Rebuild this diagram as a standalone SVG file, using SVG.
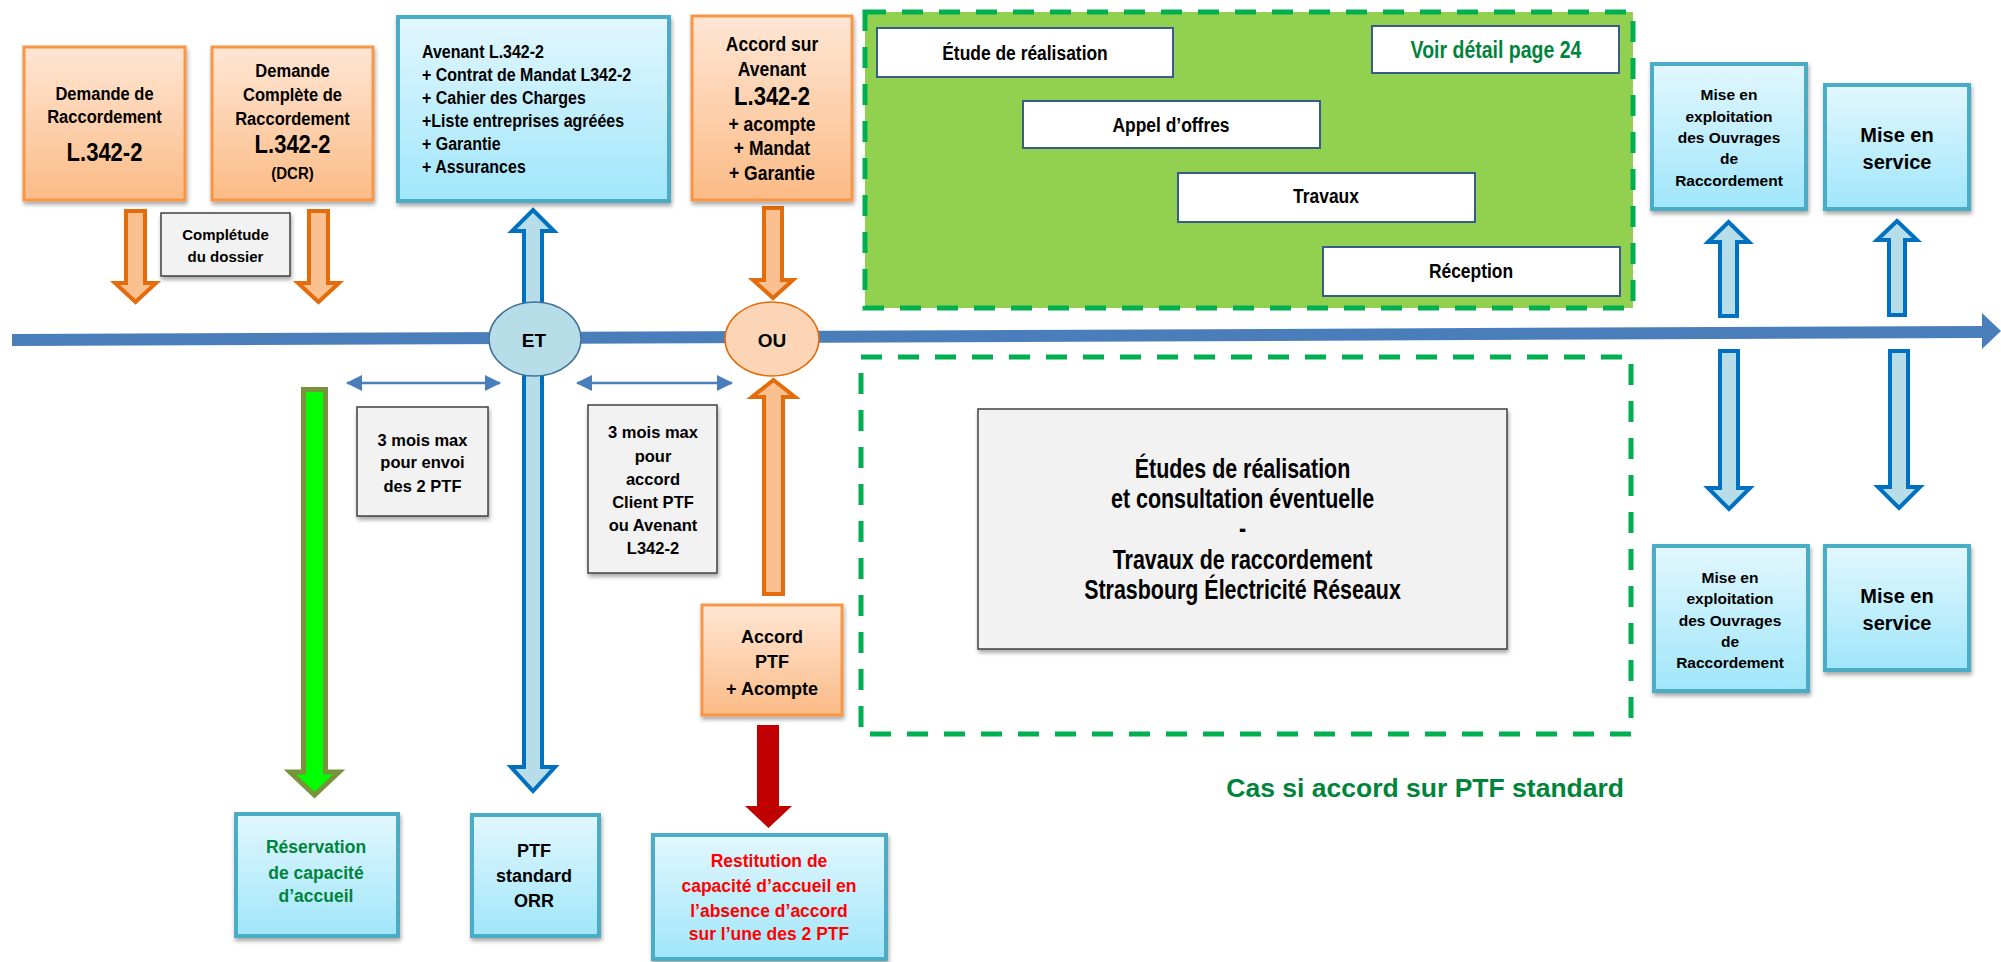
<svg xmlns="http://www.w3.org/2000/svg" width="2001" height="962" viewBox="0 0 2001 962">
<defs>
<linearGradient id="gOr" x1="0" y1="0" x2="0" y2="1"><stop offset="0" stop-color="#FFE6D4"/><stop offset="1" stop-color="#FBBB86"/></linearGradient>
<linearGradient id="gBl" x1="0" y1="0" x2="0" y2="1"><stop offset="0" stop-color="#E2F7FE"/><stop offset="1" stop-color="#A0E6FA"/></linearGradient>
<filter id="sh" x="-10%" y="-10%" width="130%" height="130%"><feDropShadow dx="1" dy="3" stdDeviation="2" flood-color="#000" flood-opacity="0.35"/></filter>
<marker id="ah" viewBox="0 0 16 16" refX="15" refY="8" markerWidth="16" markerHeight="16" markerUnits="userSpaceOnUse" orient="auto-start-reverse"><path d="M0,0 L16,8 L0,16 z" fill="#4A7EBB"/></marker>
</defs>
<style>
.t{font-family:"Liberation Sans",Arial,sans-serif;font-weight:bold;fill:#000;text-anchor:middle}
.l{text-anchor:start}
.or{fill:url(#gOr);stroke:#F79646;stroke-width:3;filter:url(#sh)}
.bl{fill:url(#gBl);stroke:#4BACC6;stroke-width:4;filter:url(#sh)}
.gr{fill:#F2F2F2;stroke:#404040;stroke-width:1.5;filter:url(#sh)}
.wh{fill:#FFFFFF;stroke:#385D8A;stroke-width:2}
.dash{stroke:#00B050;stroke-width:5;stroke-dasharray:21 16}
.oa{fill:#FAC090;stroke:#E46C0A;stroke-width:4;stroke-linejoin:miter}
.ba{fill:#B7DDE8;stroke:#0070C0;stroke-width:4;stroke-linejoin:miter}
.dbl{stroke:#4A7EBB;stroke-width:2.5;fill:none;marker-start:url(#ah);marker-end:url(#ah)}
.grn{fill:#00843C}
.red{fill:#FF0000}
</style>

<g id="zone-detail">
<rect x="865" y="12" width="768" height="296" fill="#92D050" class="dash"/>
</g>
<g id="zone-standard">
<rect x="861" y="357" width="770" height="377" fill="none" class="dash"/>
</g>

<g id="connectors">
<line x1="12" y1="340" x2="1984" y2="332" stroke="#4A7EBB" stroke-width="12"/>
<polygon points="1982,313 2001,331 1982,349" fill="#4A7EBB"/>
<polygon class="oa" points="126,211 145,211 145,283 156,283 135.5,302 115,283 126,283"/>
<polygon class="oa" points="309,211 328,211 328,283 339,283 318.5,302 298,283 309,283"/>
<polygon class="oa" points="764,208 782,208 782,280 793,280 773,298 753,280 764,280"/>
<polygon class="oa" points="773.5,380 795,397 783,397 783,594 764,594 764,397 752,397"/>
<polygon points="757,725 779,725 779,806 792,806 768.5,828 745,806 757,806" fill="#C00000"/>
<polygon points="303.5,389.5 325.5,389.5 325.5,772 339,772 314.5,795 290,772 303.5,772" fill="#00FF00" stroke="#77933C" stroke-width="5"/>
<polygon class="ba" points="533,210 554,231 542,231 542,767 555,767 533,791 511,767 524,767 524,231 512,231"/>
<polygon class="ba" points="1728.5,222 1749,242 1737,242 1737,316 1720,316 1720,242 1708,242"/>
<polygon class="ba" points="1897,221 1917,240 1905,240 1905,315 1889,315 1889,240 1877,240"/>
<polygon class="ba" points="1720,351 1738,351 1738,488 1750,488 1729,509 1708,488 1720,488"/>
<polygon class="ba" points="1890,351 1908,351 1908,487 1920,487 1899,508 1878,487 1890,487"/>
<line class="dbl" x1="347" y1="383" x2="500" y2="383"/>
<line class="dbl" x1="577" y1="383" x2="732" y2="383"/>
</g>

<g id="et">
<ellipse cx="535" cy="339" rx="46" ry="37" fill="#B7DDE8" stroke="#41719C" stroke-width="1.5"/>
<text class="t" x="534" y="347" font-size="19">ET</text>
</g>
<g id="ou">
<ellipse cx="772" cy="339" rx="47" ry="37" fill="#FBD5B5" stroke="#E46C0A" stroke-width="1.5"/>
<text class="t" x="772" y="347" font-size="19">OU</text>
</g>

<g id="demande-raccordement">
<rect class="or" x="24" y="47" width="161" height="153"/>
<g transform="translate(104.5,0) scale(0.86,1)">
<text class="t" x="0" y="100" font-size="19.2">Demande de</text>
<text class="t" x="0" y="123" font-size="19.2">Raccordement</text>
<text class="t" x="0" y="161" font-size="25.6">L.342-2</text>
</g>
</g>
<g id="demande-complete">
<rect class="or" x="212" y="47" width="161" height="153"/>
<g transform="translate(292.5,0) scale(0.86,1)">
<text class="t" x="0" y="77" font-size="19.2">Demande</text>
<text class="t" x="0" y="101" font-size="19.2">Complète de</text>
<text class="t" x="0" y="125" font-size="19.2">Raccordement</text>
<text class="t" x="0" y="153" font-size="25.6">L.342-2</text>
<text class="t" x="0" y="179" font-size="17.4">(DCR)</text>
</g>
</g>
<g id="completude">
<rect class="gr" x="161" y="213" width="129" height="63"/>
<text class="t" x="225.5" y="240" font-size="15">Complétude</text>
<text class="t" x="225.5" y="262" font-size="15">du dossier</text>
</g>
<g id="avenant">
<rect class="bl" x="398" y="17" width="271" height="184"/>
<g transform="translate(422,0) scale(0.86,1)">
<text class="t l" x="0" y="58" font-size="18.6">Avenant L.342-2</text>
<text class="t l" x="0" y="81" font-size="18.6">+ Contrat de Mandat L342-2</text>
<text class="t l" x="0" y="104" font-size="18.6">+ Cahier des Charges</text>
<text class="t l" x="0" y="127" font-size="18.6">+Liste entreprises agréées</text>
<text class="t l" x="0" y="150" font-size="18.6">+ Garantie</text>
<text class="t l" x="0" y="173" font-size="18.6">+ Assurances</text>
</g>
</g>
<g id="accord-avenant">
<rect class="or" x="692" y="16" width="160" height="184"/>
<g transform="translate(772,0) scale(0.88,1)">
<text class="t" x="0" y="51" font-size="19.9">Accord sur</text>
<text class="t" x="0" y="76" font-size="19.9">Avenant</text>
<text class="t" x="0" y="105" font-size="25">L.342-2</text>
<text class="t" x="0" y="131" font-size="19.9">+ acompte</text>
<text class="t" x="0" y="155" font-size="19.9">+ Mandat</text>
<text class="t" x="0" y="180" font-size="19.9">+ Garantie</text>
</g>
</g>

<g id="etude-realisation"><rect class="wh" x="877" y="28" width="296" height="49"/><text class="t" transform="translate(1025,0) scale(0.83,1)" x="0" y="60" font-size="21">Étude de réalisation</text></g>
<g id="voir-detail"><rect class="wh" x="1372" y="26" width="247" height="47"/><text class="t grn" transform="translate(1496,0) scale(0.83,1)" x="0" y="58" font-size="23.5">Voir détail page 24</text></g>
<g id="appel-offres"><rect class="wh" x="1023" y="101" width="297" height="47"/><text class="t" transform="translate(1171,0) scale(0.83,1)" x="0" y="132" font-size="21">Appel d’offres</text></g>
<g id="travaux"><rect class="wh" x="1178" y="173" width="297" height="49"/><text class="t" transform="translate(1326,0) scale(0.83,1)" x="0" y="203" font-size="21">Travaux</text></g>
<g id="reception"><rect class="wh" x="1323" y="247" width="297" height="49"/><text class="t" transform="translate(1471,0) scale(0.83,1)" x="0" y="278" font-size="21">Réception</text></g>

<g id="mise-exploitation-haut">
<rect class="bl" x="1652" y="64" width="154" height="145"/>
<text class="t" x="1729" y="100" font-size="15.5">Mise en</text>
<text class="t" x="1729" y="122" font-size="15.5">exploitation</text>
<text class="t" x="1729" y="143" font-size="15.5">des Ouvrages</text>
<text class="t" x="1729" y="164" font-size="15.5">de</text>
<text class="t" x="1729" y="186" font-size="15.5">Raccordement</text>
</g>
<g id="mise-service-haut">
<rect class="bl" x="1825" y="85" width="144" height="124"/>
<text class="t" x="1897" y="142" font-size="20">Mise en</text>
<text class="t" x="1897" y="169" font-size="20">service</text>
</g>
<g id="mise-exploitation-bas">
<rect class="bl" x="1654" y="546" width="154" height="145"/>
<text class="t" x="1730" y="583" font-size="15.5">Mise en</text>
<text class="t" x="1730" y="604" font-size="15.5">exploitation</text>
<text class="t" x="1730" y="626" font-size="15.5">des Ouvrages</text>
<text class="t" x="1730" y="647" font-size="15.5">de</text>
<text class="t" x="1730" y="668" font-size="15.5">Raccordement</text>
</g>
<g id="mise-service-bas">
<rect class="bl" x="1825" y="546" width="144" height="124"/>
<text class="t" x="1897" y="603" font-size="20">Mise en</text>
<text class="t" x="1897" y="630" font-size="20">service</text>
</g>

<g id="delai-envoi">
<rect class="gr" x="357" y="407" width="131" height="109"/>
<text class="t" x="422.5" y="446" font-size="16.5">3 mois max</text>
<text class="t" x="422.5" y="468" font-size="16.5">pour envoi</text>
<text class="t" x="422.5" y="492" font-size="16.5">des 2 PTF</text>
</g>
<g id="delai-accord">
<rect class="gr" x="588" y="405" width="129" height="168"/>
<text class="t" x="653" y="438" font-size="16.5">3 mois max</text>
<text class="t" x="653" y="461.5" font-size="16.5">pour</text>
<text class="t" x="653" y="484.5" font-size="16.5">accord</text>
<text class="t" x="653" y="507.5" font-size="16.5">Client PTF</text>
<text class="t" x="653" y="530.5" font-size="16.5">ou Avenant</text>
<text class="t" x="653" y="554" font-size="16.5">L342-2</text>
</g>
<g id="accord-ptf">
<rect class="or" x="702" y="605" width="140" height="110"/>
<text class="t" x="772" y="643" font-size="18">Accord</text>
<text class="t" x="772" y="668" font-size="18">PTF</text>
<text class="t" x="772" y="695" font-size="18">+ Acompte</text>
</g>
<g id="etudes-travaux">
<rect class="gr" x="978" y="409" width="529" height="240"/>
<g transform="translate(1242.5,0) scale(0.8,1)">
<text class="t" x="0" y="478" font-size="26.8">Études de réalisation</text>
<text class="t" x="0" y="508" font-size="26.8">et consultation éventuelle</text>
<text class="t" x="0" y="538" font-size="26.8">-</text>
<text class="t" x="0" y="569" font-size="26.8">Travaux de raccordement</text>
<text class="t" x="0" y="599" font-size="26.8">Strasbourg Électricité Réseaux</text>
</g>
</g>
<g id="reservation">
<rect class="bl" x="236" y="814" width="162" height="122"/>
<text class="t grn" x="316" y="853" font-size="17.5">Réservation</text>
<text class="t grn" x="316" y="879" font-size="17.5">de capacité</text>
<text class="t grn" x="316" y="902" font-size="17.5">d’accueil</text>
</g>
<g id="ptf-standard">
<rect class="bl" x="472" y="815" width="127" height="121"/>
<text class="t" x="534" y="857" font-size="18">PTF</text>
<text class="t" x="534" y="882" font-size="18">standard</text>
<text class="t" x="534" y="907" font-size="18">ORR</text>
</g>
<g id="restitution">
<rect class="bl" x="653" y="835" width="233" height="124"/>
<text class="t red" x="769" y="867" font-size="17.5">Restitution de</text>
<text class="t red" x="769" y="892" font-size="17.5">capacité d’accueil en</text>
<text class="t red" x="769" y="917" font-size="17.5">l’absence d’accord</text>
<text class="t red" x="769" y="940" font-size="17.5">sur l’une des 2 PTF</text>
</g>
<g id="legende">
<text class="t grn" x="1624" y="797" font-size="26.5" style="text-anchor:end">Cas si accord sur PTF standard</text>
</g>
</svg>
